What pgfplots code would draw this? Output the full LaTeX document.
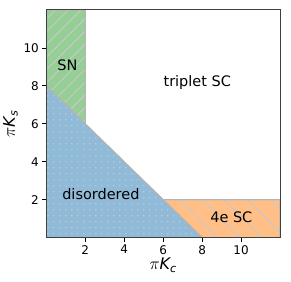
\documentclass[border=0pt]{standalone}
\usepackage{pgfplots}
\pgfplotsset{compat=1.18}
\usepackage{fontspec}
\setmainfont{DejaVu Sans}
\usetikzlibrary{patterns.meta}
\definecolor{cg}{RGB}{150,207,150}
\definecolor{cb}{RGB}{143,187,217}
\definecolor{co}{RGB}{255,191,135}
\definecolor{edge}{RGB}{180,180,180}
\definecolor{hat}{RGB}{200,200,200}
\begin{document}
\begin{tikzpicture}
\begin{axis}[name=ax,
  scale only axis, width=234pt, height=228pt,
  xmin=0, xmax=12, ymin=0, ymax=12,
  xtick={2,4,6,8,10}, ytick={2,4,6,8,10},
  tick align=outside, tick pos=left,
  major tick length=4pt,
  tick style={black, line width=0.8pt},
  axis line style={line width=1pt, black!75},
  ticklabel style={font=\fontsize{12}{13}\selectfont},
  /pgf/number format/assume math mode=true,
  xlabel={$\pi\mathit{K_c}$}, ylabel={$\pi\mathit{K_s}$},
  label style={font=\fontsize{16}{17}\selectfont},
  xlabel style={yshift=3pt},
  ylabel style={yshift=-1pt},
  axis on top,
]
\addplot[fill=cg, draw=edge, line width=1pt,
  postaction={pattern={Lines[angle=45,distance=9pt,line width=1pt]}, pattern color=hat}]
  coordinates {(0,8) (2,6) (2,12) (0,12)} -- cycle;
\addplot[fill=co, draw=edge, line width=1pt,
  postaction={pattern={Lines[angle=-45,distance=17pt,line width=1pt]}, pattern color=hat}]
  coordinates {(6,2) (12,2) (12,0) (8,0)} -- cycle;
\addplot[fill=cb, draw=edge, line width=1pt,
  postaction={pattern={Dots[distance=6pt,radius=0.85pt]}, pattern color=hat}]
  coordinates {(0,0) (0,8) (8,0)} -- cycle;
\node[font=\fontsize{14.5}{15}\selectfont] at (axis cs:1.08,9.1) {SN};
\node[font=\fontsize{14.5}{15}\selectfont] at (axis cs:7.75,8.2) {triplet SC};
\node[font=\fontsize{14.5}{15}\selectfont] at (axis cs:2.8,2.3) {disordered};
\node[font=\fontsize{14.5}{15}\selectfont] at (axis cs:9.5,1.1) {4e SC};
\end{axis}
\useasboundingbox ([xshift=-46pt,yshift=-44pt]ax.south west) rectangle ([xshift=11pt,yshift=10pt]ax.north east);
\end{tikzpicture}
\end{document}
